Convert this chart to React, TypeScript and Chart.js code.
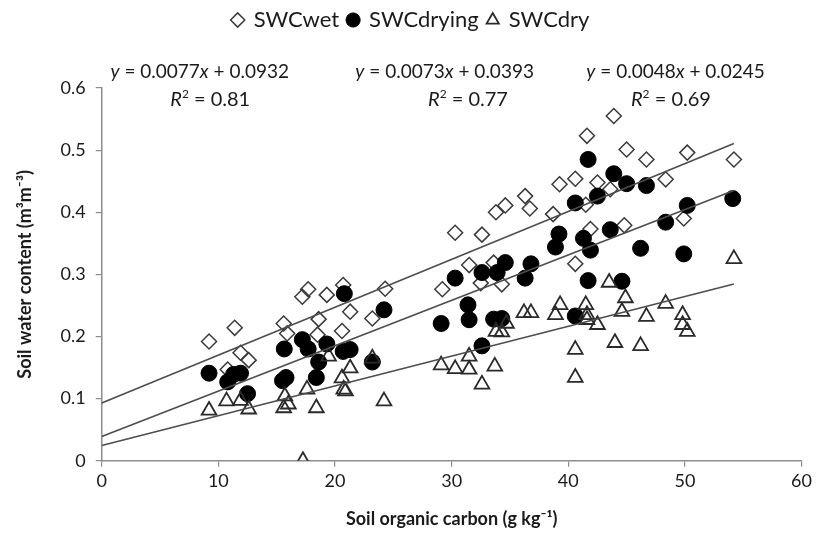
import React, { useEffect, useRef } from "react";
import { Chart, registerables } from "chart.js";

Chart.register(...registerables);

const seriesNames = ["SWCwet", "SWCdrying", "SWCdry"];

const wetX = [9.2, 11.4, 11.9, 12.6, 10.8, 15.6, 15.9, 17.2, 17.7, 19.3, 18.6, 18.5, 20.7, 20.6, 21.3, 23.2, 24.3, 29.2, 31.5, 32.5, 34.3, 33.6, 30.3, 32.6, 33.8, 34.6, 36.3, 36.7, 38.7, 39.25, 40.6, 42.5, 43.6, 41.6, 43.9, 45.0, 46.7, 50.2, 54.2, 48.35, 41.5, 41.9, 44.8, 49.9, 40.6];
const wetY = [0.192, 0.214, 0.174, 0.162, 0.147, 0.221, 0.205, 0.264, 0.276, 0.267, 0.228, 0.203, 0.283, 0.209, 0.24, 0.229, 0.277, 0.276, 0.315, 0.286, 0.284, 0.319, 0.367, 0.364, 0.4, 0.411, 0.426, 0.406, 0.397, 0.445, 0.454, 0.448, 0.437, 0.523, 0.555, 0.501, 0.485, 0.496, 0.485, 0.453, 0.412, 0.373, 0.379, 0.39, 0.317];

const dryingX = [9.2, 10.8, 11.3, 11.9, 12.5, 15.65, 15.5, 15.8, 17.2, 17.7, 19.3, 18.6, 18.4, 20.7, 20.8, 24.2, 21.3, 23.2, 30.3, 32.6, 33.9, 34.6, 36.8, 36.3, 31.4, 31.5, 29.1, 33.6, 34.3, 32.6, 41.7, 43.9, 42.5, 40.6, 39.2, 38.9, 41.3, 41.9, 43.6, 41.7, 44.6, 40.6, 45.0, 46.7, 54.1, 50.2, 48.35, 46.2, 49.9];
const dryingY = [0.141, 0.127, 0.139, 0.141, 0.108, 0.18, 0.129, 0.134, 0.195, 0.18, 0.188, 0.159, 0.134, 0.176, 0.269, 0.243, 0.179, 0.159, 0.294, 0.303, 0.303, 0.319, 0.317, 0.294, 0.251, 0.227, 0.221, 0.228, 0.229, 0.185, 0.485, 0.462, 0.426, 0.415, 0.365, 0.344, 0.358, 0.339, 0.372, 0.29, 0.289, 0.233, 0.446, 0.443, 0.422, 0.411, 0.384, 0.342, 0.333];

const dryX = [9.2, 10.7, 11.9, 12.6, 15.6, 15.7, 16.0, 17.6, 18.4, 17.25, 19.45, 20.6, 20.75, 21.3, 20.9, 24.2, 23.2, 29.1, 30.3, 31.5, 31.5, 32.6, 33.7, 33.8, 34.3, 34.7, 36.2, 36.8, 38.9, 39.3, 41.5, 41.6, 41.6, 42.5, 40.6, 40.6, 43.5, 44.9, 44.6, 44.0, 46.2, 46.7, 48.35, 49.8, 49.8, 50.2, 54.2];
const dryY = [0.081, 0.096, 0.097, 0.083, 0.085, 0.104, 0.091, 0.115, 0.085, 0.0, 0.168, 0.133, 0.115, 0.149, 0.112, 0.096, 0.165, 0.154, 0.148, 0.168, 0.147, 0.123, 0.152, 0.208, 0.207, 0.221, 0.238, 0.238, 0.235, 0.251, 0.251, 0.235, 0.227, 0.219, 0.179, 0.134, 0.287, 0.262, 0.24, 0.19, 0.185, 0.232, 0.253, 0.235, 0.219, 0.208, 0.325];

const fitSlopes = [0.0077, 0.0073, 0.0048];
const fitIntercepts = [0.0932, 0.0393, 0.0245];
const fitR2 = ["0.81", "0.77", "0.69"];
const fitXStart = 0;
const fitXEnd = 54.2;

const xMin = 0, xMax = 60, xStep = 10;
const yMin = 0, yMax = 0.6, yStep = 0.1;

const xTitle = "Soil organic carbon (g kg\u207B\u00B9)";
const yTitle = "Soil water content (m\u00B3m\u207B\u00B3)";

const FONT = "Lato, 'Open Sans', 'DejaVu Sans', sans-serif";

type Seg = { t: string; i?: boolean; sup?: boolean };

function drawRich(ctx: CanvasRenderingContext2D, segs: Seg[], cx: number, baseline: number, size: number) {
  const fontFor = (s: Seg) => `${s.i ? "italic " : ""}${s.sup ? Math.round(size * 0.62) : size}px ${FONT}`;
  let total = 0;
  segs.forEach((s) => {
    ctx.font = fontFor(s);
    total += ctx.measureText(s.t).width;
  });
  let x = cx - total / 2;
  ctx.textAlign = "left";
  ctx.textBaseline = "alphabetic";
  segs.forEach((s) => {
    ctx.font = fontFor(s);
    ctx.fillText(s.t, x, s.sup ? baseline - size * 0.38 : baseline);
    x += ctx.measureText(s.t).width;
  });
}

// label anchor positions, in data units of the x axis
const eqLabelX = [8.4, 29.4, 49.2];
const r2LabelX = [9.3, 31.4, 48.8];

const equationPlugin = {
  id: "equations",
  afterDraw(chart: any) {
    const ctx = chart.ctx as CanvasRenderingContext2D;
    const xs = chart.scales.x;
    const top = chart.chartArea.top;
    ctx.save();
    ctx.fillStyle = "#1a1a1a";
    fitSlopes.forEach((m, k) => {
      drawRich(ctx, [
        { t: "y", i: true },
        { t: " = " + m.toFixed(4) },
        { t: "x", i: true },
        { t: " + " + fitIntercepts[k].toFixed(4) },
      ], xs.getPixelForValue(eqLabelX[k]), top - 10, 19);
      drawRich(ctx, [
        { t: "R", i: true },
        { t: "2", sup: true },
        { t: " = " + fitR2[k] },
      ], xs.getPixelForValue(r2LabelX[k]), top + 18, 20);
    });
    ctx.restore();
  },
};

const legendSpacer = {
  id: "legendSpacer",
  beforeInit(chart: any) {
    const legend = chart.legend;
    if (!legend) return;
    const orig = legend.fit;
    legend.fit = function () {
      orig.call(this);
      this.height += 47;
    };
  },
};

export default function App() {
  const ref = useRef<HTMLCanvasElement | null>(null);

  useEffect(() => {
    if (!ref.current) return;
    const pts = (xs: number[], ys: number[]) => xs.map((x, i) => ({ x, y: ys[i] }));
    const fitLine = (k: number) => [
      { x: fitXStart, y: fitSlopes[k] * fitXStart + fitIntercepts[k] },
      { x: fitXEnd, y: fitSlopes[k] * fitXEnd + fitIntercepts[k] },
    ];
    const chart = new Chart(ref.current, {
      type: "scatter",
      data: {
        datasets: [
          {
            label: seriesNames[0],
            data: pts(wetX, wetY),
            pointStyle: "rectRot",
            pointRadius: 7.5,
            pointBackgroundColor: "rgba(255,255,255,0)",
            pointBorderColor: "#3a3a3a",
            pointBorderWidth: 1.5,
            backgroundColor: "rgba(255,255,255,0)",
            borderColor: "#3a3a3a",
            borderWidth: 1.5,
            order: 3,
          },
          {
            label: seriesNames[1],
            data: pts(dryingX, dryingY),
            pointStyle: "circle",
            pointRadius: 8,
            pointBackgroundColor: "#000",
            pointBorderColor: "#000",
            pointBorderWidth: 1,
            backgroundColor: "#000",
            borderColor: "#000",
            borderWidth: 1,
            order: 2,
          },
          {
            label: seriesNames[2],
            data: pts(dryX, dryY),
            pointStyle: "triangle",
            pointRadius: 8.5,
            pointBackgroundColor: "rgba(255,255,255,0)",
            pointBorderColor: "#2a2a2a",
            pointBorderWidth: 1.8,
            backgroundColor: "rgba(255,255,255,0)",
            borderColor: "#2a2a2a",
            borderWidth: 1.8,
            order: 1,
          },
          ...[0, 1, 2].map((k) => ({
            label: "fit" + k,
            data: fitLine(k),
            showLine: true,
            pointRadius: 0,
            borderColor: "#4d4d4d",
            borderWidth: 1.6,
            order: 0,
          })),
        ],
      } as any,
      options: {
        animation: false,
        responsive: false,
        maintainAspectRatio: false,
        layout: { padding: { left: 10, right: 4, top: 0, bottom: 3 } },
        plugins: {
          tooltip: { enabled: false },
          legend: {
            position: "top",
            labels: {
              usePointStyle: true,
              boxWidth: 10,
              boxHeight: 10,
              padding: 9,
              color: "#1a1a1a",
              font: { family: FONT, size: 22 },
              filter: (item: any) => item.datasetIndex < 3,
              sort: (a: any, b: any) => a.datasetIndex - b.datasetIndex,
            },
          },
        },
        scales: {
          x: {
            type: "linear",
            min: xMin,
            max: xMax,
            ticks: { stepSize: xStep, color: "#1a1a1a", font: { family: FONT, size: 18 }, padding: 4 },
            grid: { drawOnChartArea: false, drawTicks: true, tickLength: 6, color: "#8c8c8c", lineWidth: 1.2 },
            border: { display: true, color: "#8c8c8c", width: 1.5 },
            title: { display: true, text: xTitle, color: "#1a1a1a", font: { family: FONT, size: 18, weight: "bold" }, padding: { top: 12, bottom: 3 } },
          },
          y: {
            type: "linear",
            min: yMin,
            max: yMax,
            ticks: { stepSize: yStep, color: "#1a1a1a", font: { family: FONT, size: 18 }, padding: 10 },
            grid: { drawOnChartArea: false, drawTicks: true, tickLength: 6, color: "#8c8c8c", lineWidth: 1.2 },
            border: { display: true, color: "#8c8c8c", width: 1.5 },
            title: { display: true, text: yTitle, color: "#1a1a1a", font: { family: FONT, size: 18, weight: "bold" }, padding: { top: 4, bottom: 15 } },
          },
        },
      } as any,
      plugins: [legendSpacer, equationPlugin],
    });
    return () => chart.destroy();
  }, []);

  return (
    <div style={{ position: "fixed", left: 0, top: 0, width: 816, height: 536, background: "#fff" }}>
      <canvas ref={ref} width={816} height={536} style={{ display: "block", width: 816, height: 536 }} />
    </div>
  );
}
